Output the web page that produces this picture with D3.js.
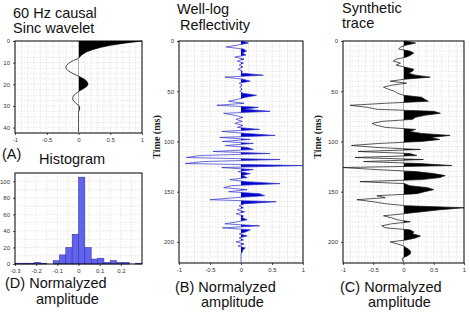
<!doctype html>
<html lang="en">
<head>
<meta charset="utf-8">
<title>Synthetic seismogram</title>
<style>
  body { margin: 0; background: #fff; }
  svg { display: block; }
  .title { font-family: "Liberation Sans", Arial, sans-serif; font-size: 14.5px; fill: #111; }
  .tick text { font-family: "Liberation Sans", Arial, sans-serif; font-size: 6px; fill: #333; }
  .tick line { stroke: #555; }
  .domain { display: none; }
  .grid line { stroke: #d4d4d4; stroke-width: 0.6; stroke-dasharray: 1.5,1.5; }
  .ylab { font-family: "Liberation Serif", "DejaVu Serif", serif; font-weight: bold; font-size: 10px; fill: #222; }
</style>
</head>
<body>
<script src="https://cdn.jsdelivr.net/npm/d3@7"></script>
<script>
// ---------------- data
// (A) causal sinc wavelet, 1 ms steps
var waveletTime = d3.range(0, 43, 1);
var waveletAmp = [1.0, 0.72, 0.5, 0.34, 0.22, 0.13, 0.07, 0.03, 0.0, -0.08,
  -0.14, -0.18, -0.2, -0.19, -0.15, -0.09, -0.02, 0.05, 0.11, 0.14,
  0.15, 0.13, 0.08, 0.02, -0.03, -0.07, -0.09, -0.09, -0.07, -0.03,
  0.01, 0.02, 0.01, 0, 0, 0, 0, 0, 0, 0, 0, 0, 0];

// (B) well-log reflectivity, 2 ms steps
var traceTime = d3.range(0, 222, 2);
var reflectivity = [0.02, 0.12, -0.05, -0.24, 0.04, 0.09, 0.02, 0.08, -0.1, 0.05,
  -0.06, 0.04, -0.03, 0.03, -0.05, 0.02, 0.01, 0.36, -0.26, 0.03,
  0.15, -0.03, 0.02, -0.02, 0.02, -0.02, 0.03, 0.25, 0.08, -0.05,
  -0.2, 0.05, -0.39, 0.28, 0.06, 0.47, -0.28, -0.1, 0.03, -0.08,
  0.02, -0.1, 0.03, -0.06, 0.3, -0.31, 0.08, 0.55, -0.34, 0.15,
  -0.3, 0.2, -0.25, 0.1, 0.2, -0.45, 0.47, -0.66, -0.88, 0.63,
  -0.6, -0.9, 1.0, -0.31, 0.2, -0.05, 0.15, 0.02, 0.1, -0.18,
  0.08, 0.63, -0.15, -0.28, 0.1, -0.2, 0.3, 0.38, -0.1, -0.5,
  0.57, 0.06, -0.03, 0.04, -0.06, 0.06, -0.08, 0.04, 0.02, 0.1,
  -0.06, -0.26, 0.3, -0.3, 0.15, 0.08, -0.03, 0.1, -0.03, 0.04,
  -0.08, 0.05, -0.05, 0.07, 0.03, 0.02, 0, 0, 0, 0, 0];

// (C) synthetic trace, 2 ms steps
var synthetic = [0.02, 0.2, 0.05, -0.05, -0.08, 0.1, 0.17, 0.12, 0.05, -0.12,
  -0.17, -0.05, -0.12, 0.02, 0.17, 0.15, 0.08, 0.2, 0.44, 0.02,
  -0.22, 0.05, -0.2, -0.33, -0.25, -0.15, -0.1, 0.0, 0.3, 0.35,
  0.41, -0.3, -0.88, -0.6, -0.44, 0.5, 0.61, 0.35, 0.2, 0.15,
  -0.35, -0.52, -0.44, -0.3, 0.2, 0.1, 0.3, 0.77, 0.45, 0.6,
  0.3, -0.41, -0.86, -0.44, 0.28, -0.75, 0.1, 0.22, -0.8, 0.33,
  -0.66, 0.27, 0.8, -1.0, -0.44, 0.2, 0.5, 0.69, 0.6, 0.3,
  -0.72, 0.02, 0.1, 0.4, 0.5, 0.35, 0.22, -0.44, -0.3, -0.77,
  -0.5, -0.3, 0.05, 1.0, 0.6, 0.3, 0.0, -0.33, -0.2, -0.1,
  0.11, -0.2, -0.36, -0.3, 0.1, 0.17, 0.15, 0.28, 0.2, 0.05,
  -0.22, -0.1, 0.0, 0.05, 0.1, 0.12, 0.11, 0.06, -0.02, -0.02, 0];

// (D) histogram of reflectivity, 0.03 bins from -0.3 to 0.3
var binStart = d3.range(-0.3, 0.299, 0.03);
var binCount = [1, 1, 1, 2, 1, 0, 4, 11, 20, 36, 105, 20, 6, 7, 2, 4, 2, 2, 0, 1];

var ampTicks = [-1, -0.5, 0, 0.5, 1];
var waveletTicks = [0, 10, 20, 30, 40];
var timeTicks = [0, 50, 100, 150, 200];
var histXTicks = [-0.3, -0.2, -0.1, 0, 0.1, 0.2];
var histYTicks = [0, 20, 40, 60, 80, 100];

// ---------------- svg
var width = 470, height = 317;
var svg = d3.select("body").append("svg")
    .attr("width", width).attr("height", height);
var defs = svg.append("defs");

// plain labels like the picture: -1, -0.5, 0 ...
var fmt = function(d) { return String(+d.toFixed(2)); };

function grid(g, x, y, xs, ys) {
  var gg = g.append("g").attr("class", "grid");
  gg.selectAll(".gx").data(xs).enter().append("line")
    .attr("x1", x).attr("x2", x)
    .attr("y1", y.range()[0]).attr("y2", y.range()[1]);
  gg.selectAll(".gy").data(ys).enter().append("line")
    .attr("y1", y).attr("y2", y)
    .attr("x1", x.range()[0]).attr("x2", x.range()[1]);
}

function frame(g, x, y) {
  g.append("rect")
    .attr("x", x.range()[0]).attr("y", d3.min(y.range()))
    .attr("width", x.range()[1] - x.range()[0])
    .attr("height", Math.abs(y.range()[1] - y.range()[0]))
    .attr("fill", "none").attr("stroke", "#000").attr("stroke-width", 1);
}

// wiggle trace with positive side filled
function wiggle(id, x, y, times, vals, col, lineCol) {
  var g = svg.append("g");
  var pts = times.map(function(t, i) { return [t, vals[i]]; });
  defs.append("clipPath").attr("id", id)
    .append("rect")
    .attr("x", x(0)).attr("y", y.range()[0])
    .attr("width", x.range()[1] - x(0))
    .attr("height", y.range()[1] - y.range()[0]);
  var area = d3.area()
    .y(function(d) { return y(d[0]); })
    .x0(x(0))
    .x1(function(d) { return x(d[1]); });
  g.append("path").datum(pts)
    .attr("d", area)
    .attr("fill", col)
    .attr("clip-path", "url(#" + id + ")");
  g.append("path").datum(pts)
    .attr("d", d3.line().x(function(d) { return x(d[1]); }).y(function(d) { return y(d[0]); }))
    .attr("fill", "none").attr("stroke", lineCol).attr("stroke-width", 0.7);
  return g;
}

function axes(g, x, y, xt, yt) {
  g.append("g").attr("transform", "translate(0," + d3.max(y.range()) + ")")
    .call(d3.axisBottom(x).tickValues(xt).tickSize(2).tickPadding(3).tickFormat(fmt));
  g.append("g").attr("transform", "translate(" + x.range()[0] + ",0)")
    .call(d3.axisLeft(y).tickValues(yt).tickSize(2).tickPadding(3).tickFormat(fmt));
}

// ---------------- (A) wavelet
var xA = d3.scaleLinear().domain([-1, 1]).range([15, 142]);
var yA = d3.scaleLinear().domain([0, 42.5]).range([41, 133]);
var gA = svg.append("g");
grid(gA, xA, yA, d3.range(-0.9, 1, 0.1), d3.range(2.5, 42.5, 2.5));
axes(gA, xA, yA, ampTicks, waveletTicks);
wiggle("clipA", xA, yA, waveletTime, waveletAmp, "#000", "#000");
frame(gA, xA, yA);

// ---------------- (D) histogram
var xD = d3.scaleLinear().domain([-0.3, 0.3]).range([15, 142]);
var yD = d3.scaleLinear().domain([0, 110]).range([264, 173]);
var gD = svg.append("g");
grid(gD, xD, yD, d3.range(-0.25, 0.3, 0.05), d3.range(10, 110, 10));
axes(gD, xD, yD, histXTicks, histYTicks);
gD.selectAll(".bar").data(binStart).enter().append("rect")
  .attr("x", function(d) { return xD(d); })
  .attr("width", function(d) { return xD(d + 0.03) - xD(d); })
  .attr("y", function(d, i) { return yD(binCount[i]); })
  .attr("height", function(d, i) { return yD(0) - yD(binCount[i]); })
  .attr("fill", "#6262ee").attr("stroke", "#2a2a9a").attr("stroke-width", 0.5);
frame(gD, xD, yD);

// ---------------- (B) reflectivity
var xB = d3.scaleLinear().domain([-1, 1]).range([179, 303]);
var yB = d3.scaleLinear().domain([0, 221]).range([41, 263]);
var gB = svg.append("g");
grid(gB, xB, yB, d3.range(-0.875, 1, 0.125), d3.range(5, 221, 5));
axes(gB, xB, yB, ampTicks, timeTicks);
wiggle("clipB", xB, yB, traceTime, reflectivity, "#0000d0", "#3030c8");
frame(gB, xB, yB);

// ---------------- (C) synthetic
var xC = d3.scaleLinear().domain([-1, 1]).range([343, 464]);
var yC = d3.scaleLinear().domain([0, 221]).range([41, 263]);
var gC = svg.append("g");
grid(gC, xC, yC, d3.range(-0.875, 1, 0.125), d3.range(5, 221, 5));
axes(gC, xC, yC, ampTicks, timeTicks);
wiggle("clipC", xC, yC, traceTime, synthetic, "#000", "#111");
frame(gC, xC, yC);

// ---------------- text
function label(x, y, s) {
  svg.append("text").attr("class", "title").attr("x", x).attr("y", y).text(s);
}
label(13, 18, "60 Hz causal");
label(13, 33, "Sinc wavelet");
label(177, 14, "Well-log");
label(180, 30, "Reflectivity");
label(342, 13, "Synthetic");
label(342, 28, "trace");
label(2, 159, "(A)");
label(39, 164, "Histogram");
label(5, 288, "(D) Normalyzed");
label(36, 304, "amplitude");
label(175, 292, "(B) Normalyzed");
label(201, 307, "amplitude");
label(340, 292, "(C) Normalyzed");
label(368, 307, "amplitude");

svg.append("text").attr("class", "ylab")
  .attr("transform", "translate(160,137) rotate(-90)")
  .attr("text-anchor", "middle").text("Time (ms)");
svg.append("text").attr("class", "ylab")
  .attr("transform", "translate(321,137) rotate(-90)")
  .attr("text-anchor", "middle").text("Time (ms)");
</script>
</body>
</html>
